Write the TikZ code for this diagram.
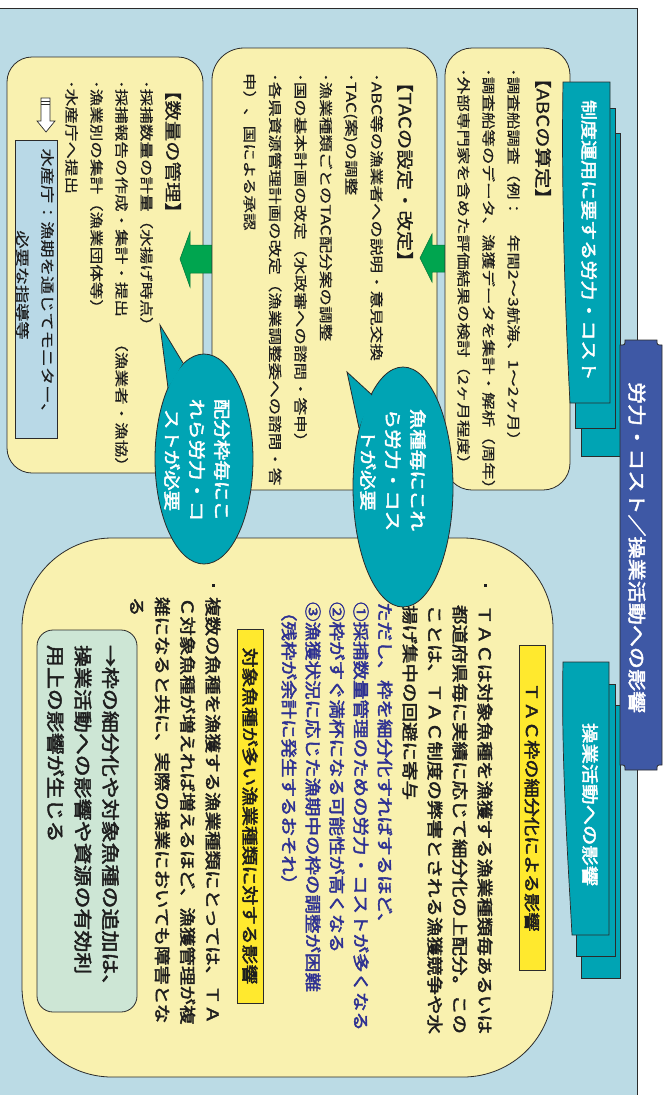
\documentclass[tikz,border=0pt]{standalone}
\usepackage{fontspec}
\newfontfamily\jp[FakeStretch=1.3,FakeBold=0.4]{Noto Sans CJK JP}
\newfontfamily\jph[FakeStretch=1.2,FakeBold=0.8]{Noto Sans CJK JP}
\newfontfamily\jpb[FakeStretch=1.2,FakeBold=2.5]{Noto Sans CJK JP}
\definecolor{bgblue}{HTML}{BBDBE5}
\definecolor{paleY}{HTML}{F9F1AF}
\definecolor{tealc}{HTML}{00A4B4}
\definecolor{navyc}{HTML}{3E58A5}
\definecolor{arrowg}{HTML}{00A54F}
\definecolor{txtblue}{HTML}{2E3192}
\definecolor{labelY}{HTML}{FFE92E}
\definecolor{paleG}{HTML}{CDE6D5}
\definecolor{edgec}{HTML}{2B2B2B}
\definecolor{miniblue}{HTML}{B9D9E7}
\definecolor{inkc}{HTML}{1E1E1E}
\tikzset{
  ybox/.style={draw=edgec, fill=paleY, line width=0.8pt},
  txt/.style={rotate=-90, anchor=north west, inner sep=0pt, outer sep=0pt, align=left, text=inkc},
  ctxt/.style={rotate=-90, anchor=center, inner sep=0pt, outer sep=0pt, align=center},
  wtxt/.style={rotate=-90, anchor=west, inner sep=0pt, outer sep=0pt, text=white},
  garrow/.style={fill=arrowg, draw=arrowg!70!black, line width=0.5pt},
  tealL/.style={fill=tealc, draw=edgec, line width=0.7pt},
  bubble/.style={fill=tealc, draw=edgec, line width=0.8pt},
  bullet/.style={fill=inkc, inner sep=0pt, minimum size=3pt},
}
\begin{document}
\begin{tikzpicture}[x=1pt,y=-1pt]
\useasboundingbox (0,0) rectangle (666,1095);
\fill[white] (0,0) rectangle (666,1095);
% background panel
\fill[bgblue] (0,8) rectangle (637,1095);
\draw[edgec, line width=0.8pt] (0,8) -- (637,8) -- (637,1095);

% ---- quantity box ----
\draw[ybox, rounded corners=25] (7,57) rectangle (203,473);
\node[txt, font=\fontsize{17}{20}\selectfont\jph] (qH) at (181,80) {【数量の管理】};
\node[txt, font=\fontsize{13.5}{25}\selectfont\jp] (qL) at (153,80)
  {･採捕数量の計量（水揚げ時点）\\･採捕報告の作成・集計・提出　（漁業者・漁協）\\･漁業別の集計（漁業団体等）\\･水産庁へ提出};
% hollow down arrow
\draw[fill=white, draw=edgec, line width=0.7pt] (41,98) -- (50,98) -- (50,121) -- (55,121) -- (46,132) -- (37,121) -- (41,121) -- cycle;
\draw[edgec, line width=0.5pt] (41,101) -- (50,101) (41,104) -- (50,104);
\draw[fill=miniblue, draw=edgec, line width=0.8pt] (15,140) rectangle (57,438);
\node[ctxt, font=\fontsize{14}{25}\selectfont\jp, text=inkc] (mbT) at (35,285) {水産庁：漁期を通じてモニター、\\必要な指導等};

% arrow 2
\draw[garrow] (180,259) -- (190,232) -- (190,245) -- (214,245) -- (214,273) -- (190,273) -- (190,287) -- cycle;

% ---- TAC box ----
\draw[ybox, rounded corners=32] (212,48) rectangle (437,490);
\node[txt, font=\fontsize{17}{20}\selectfont\jph] (tH) at (413,72) {【TACの設定・改定】};
\node[txt, font=\fontsize{13.5}{25.4}\selectfont\jp] (tL) at (383,73)
  {･ABC等の漁業者への説明・意見交換\\･TAC(案)の調整\\･漁業種類ごとのTAC配分案の調整\\･国の基本計画の改定（水政審への諮問・答申）\\･各県資源管理計画の改定（漁業調整委への諮問・答\\申）、国による承認};

% arrow 1
\draw[garrow] (420,258) -- (432,234) -- (432,245) -- (447,245) -- (447,272) -- (432,272) -- (432,282) -- cycle;

% ---- ABC box ----
\draw[ybox, rounded corners=27] (445,48) rectangle (570,490);
\node[txt, font=\fontsize{17}{20}\selectfont\jph] (aH) at (551,68) {【ABCの算定】};
\node[txt, font=\fontsize{13.5}{25}\selectfont\jp] (aL) at (520,68)
  {･調査船調査（例：　年間2～3航海、1～2ヶ月）\\･調査船等のデータ、漁獲データを集計・解析（周年）\\･外部専門家を含めた評価結果の検討（2ヶ月程度）};

% ---- teal label 1 ----
\draw[tealL] (581,133) rectangle (620,456);
\draw[tealL] (575,108) rectangle (615,428);
\draw[tealL] (563,82) -- (610,82) -- (610,403) -- (570,403) .. controls (566,330) and (561,200) .. (563,82) -- cycle;
\node[wtxt, font=\fontsize{16.7}{20}\selectfont\jpb] (lab1) at (589,100) {制度運用に要する労力・コスト};

% ---- teal label 2 ----
\draw[tealL] (581,705) rectangle (620,978);
\draw[tealL] (576,684) rectangle (615,956);
\draw[tealL] (563,662) -- (609,662) -- (609,935) -- (572,935) .. controls (568,860) and (561,760) .. (563,662) -- cycle;
\node[wtxt, font=\fontsize{17}{20}\selectfont\jpb] (lab2) at (590,723) {操業活動への影響};

% ---- navy title ----
\draw[fill=navyc, draw=edgec, line width=0.8pt] (625,340) -- (657,340) .. controls (657,345) .. (662,345) -- (662,765) .. controls (657,765) .. (657,770) -- (625,770) .. controls (625,765) .. (620,765) -- (620,345) .. controls (625,345) .. (625,340) -- cycle;
\node[wtxt, font=\fontsize{18.4}{22}\selectfont\jpb] (title) at (637,382) {労力・コスト／操業活動への影響};

% ---- big bottom box ----
\draw[ybox, rounded corners=90] (22,538) rectangle (553,1077);
\draw[fill=labelY, draw=edgec, line width=0.7pt] (519,645) rectangle (545,970);
\node[ctxt, font=\fontsize{16}{20}\selectfont\jpb, text=inkc] (y1) at (532,807) {ＴＡＣ枠の細分化による影響};
\node[bullet] (b1) at (485,585) {};
\node[txt, font=\fontsize{16.25}{25}\selectfont\jpb] (p1) at (492.5,605)
  {ＴＡＣは対象魚種を漁獲する漁業種類毎あるいは\\都道府県毎に実績に応じて細分化の上配分。この\\ことは、ＴＡＣ制度の弊害とされる漁獲競争や水\\揚げ集中の回避に寄与};
\node[bullet, fill=txtblue] (b2) at (386,585) {};
\node[txt, text=txtblue, font=\fontsize{16.25}{24}\selectfont\jpb] (p2) at (392.5,602)
  {ただし、枠を細分化すればするほど、\\①採捕数量管理のための労力・コストが多くなる\\②枠がすぐ満杯になる可能性が高くなる\\③漁獲状況に応じた漁期中の枠の調整が困難\\（残枠が余計に発生するおそれ）};
\draw[fill=labelY, draw=edgec, line width=0.7pt] (237,629) rectangle (263,1003);
\node[ctxt, font=\fontsize{16.5}{20}\selectfont\jpb, text=inkc] (y2) at (250,816) {対象魚種が多い漁業種類に対する影響};
\node[bullet] (b3) at (213,585) {};
\node[txt, font=\fontsize{16.25}{25.3}\selectfont\jpb] (p3) at (220.5,597)
  {複数の魚種を漁獲する漁業種類にとっては、ＴＡ\\Ｃ対象魚種が増えれば増えるほど、漁獲管理が複\\雑になると共に、実際の操業においても障害とな\\る};
\draw[fill=paleG, draw=edgec, line width=0.8pt, rounded corners=16] (37,630) rectangle (137,1012);
\node[txt, font=\fontsize{18.3}{27.5}\selectfont\jpb] (g1) at (119,645)
  {→枠の細分化や対象魚種の追加は、\\操業活動への影響や資源の有効利\\用上の影響が生じる};

% ---- bubble 1 ----
\draw[bubble] (403,487) ellipse [x radius=50pt, y radius=120pt];
\fill[tealc] (372,395) -- (347,372) -- (359,428) -- cycle;
\draw[edgec, line width=0.8pt] (372,395) -- (347,372) -- (359,428);
\node[ctxt, text=white, font=\fontsize{17}{25}\selectfont\jpb] (bt1) at (393,470) {魚種毎にこれ\\ら労力・コス\\トが必要};

% ---- bubble 2 ----
\draw[bubble] (204,459) ellipse [x radius=49pt, y radius=105pt];
\fill[tealc] (183,363) -- (160,325) -- (168,388) -- cycle;
\draw[edgec, line width=0.8pt] (183,363) -- (160,325) -- (168,388);
\node[ctxt, text=white, font=\fontsize{17}{25}\selectfont\jpb] (bt2) at (197,460) {配分枠毎にこ\\れら労力・コ\\ストが必要};
\end{tikzpicture}
\end{document}
